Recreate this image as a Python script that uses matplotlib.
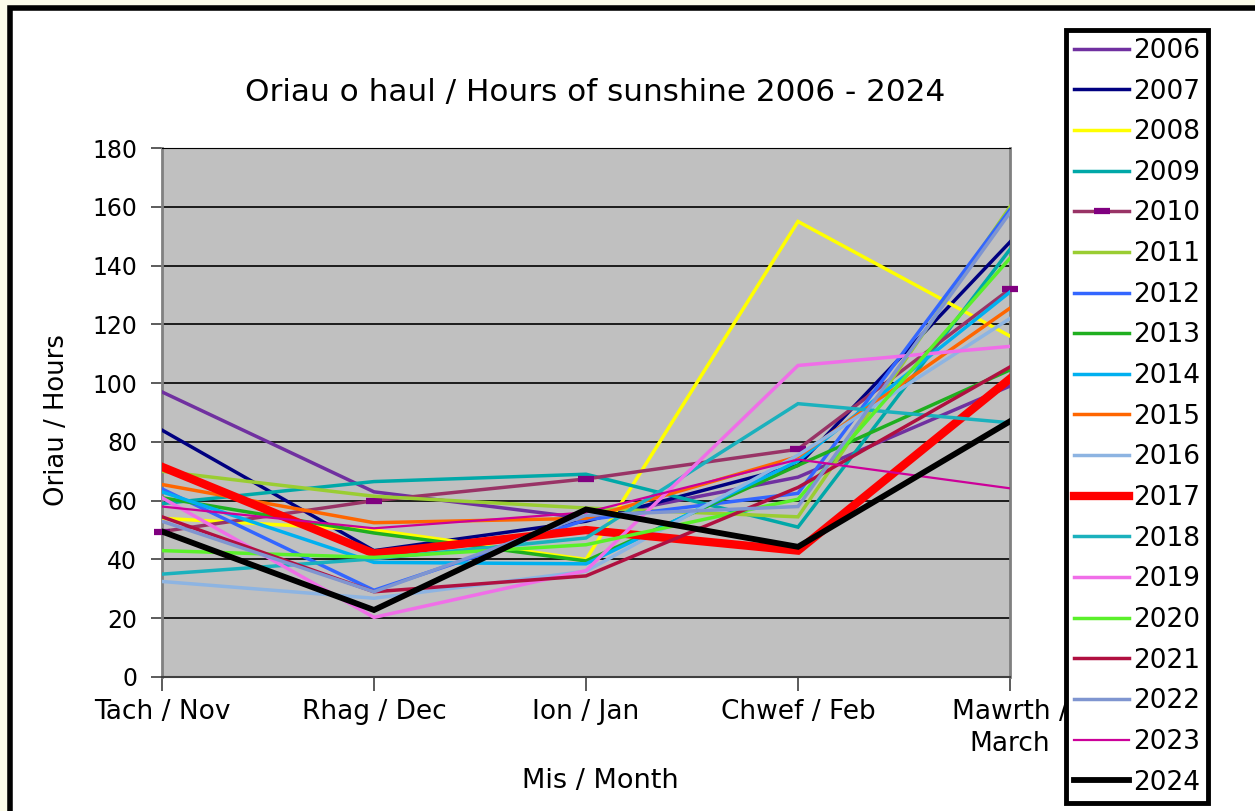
import matplotlib
matplotlib.use("Agg")
import matplotlib.pyplot as plt
from matplotlib.patches import Rectangle

months = ['Tach / Nov', 'Rhag / Dec', 'Ion / Jan', 'Chwef / Feb', 'Mawrth /\nMarch']
years = ['2006', '2007', '2008', '2009', '2010', '2011', '2012', '2013', '2014', '2015',
         '2016', '2017', '2018', '2019', '2020', '2021', '2022', '2023', '2024']

# sunshine hours, Nov..March, one row per season
y2006 = [97, 63, 54, 68, 99]
y2007 = [84, 43, 53, 72, 148]
y2008 = [54, 50, 40, 155, 116]
y2009 = [59, 66.5, 69, 51, 145.5]
y2010 = [49.5, 60, 67.4, 77.5, 132]
y2011 = [70, 61.5, 57.5, 54.5, 160]
y2012 = [64, 29.5, 53.5, 62.5, 159]
y2013 = [61, 49, 39.5, 72, 104.5]
y2014 = [63, 39, 38.5, 73.5, 131]
y2015 = [65.5, 52.5, 54, 75, 125.5]
y2016 = [32.5, 26.8, 36, 75.5, 122]
y2017 = [71.5, 42, 50, 43, 101.5]
y2018 = [35, 40.2, 47.3, 93, 86.5]
y2019 = [61, 20.3, 36.2, 106, 112.5]
y2020 = [43, 40.7, 45, 60.5, 142.5]
y2021 = [54.5, 29, 34.4, 64.5, 105.5]
y2022 = [53, 29, 55, 58, 158]
y2023 = [58, 50.6, 56, 74, 64.2]
y2024 = [49.5, 22.8, 57, 44.3, 87]

series = [y2006, y2007, y2008, y2009, y2010, y2011, y2012, y2013, y2014, y2015,
          y2016, y2017, y2018, y2019, y2020, y2021, y2022, y2023, y2024]
colors = ['#7030A0', '#000080', '#FFFF00', '#00A8A8', '#993366', '#9ACD32', '#3366FF',
          '#1FAF1F', '#00B0F0', '#FF6600', '#8DB4E2', '#FF0000', '#1BB1BD', '#F06EE8',
          '#5AF02A', '#B01040', '#7F95D0', '#CC0099', '#000000']
widths = [2.5, 2.5, 2.5, 2.5, 2.5, 2.5, 2.5, 2.5, 2.5, 2.5,
          2.5, 6.0, 2.5, 2.5, 2.5, 2.5, 2.5, 1.6, 4.2]

fig = plt.figure(figsize=(12.55, 8.11), dpi=100)
fig.patch.set_facecolor('#FBFBE9')
fig.patches.append(Rectangle((10 / 1255, -0.05), 1.1, 1 - 8 / 811 + 0.05,
                             transform=fig.transFigure, facecolor='white',
                             edgecolor='black', linewidth=4, zorder=-1))

ax = fig.add_axes([162 / 1255, 1 - 677 / 811, 848 / 1255, 529 / 811])
ax.set_facecolor('#C0C0C0')
x = list(range(len(months)))
for yr, vals, c, lw in zip(years, series, colors, widths):
    if yr == '2010':
        ax.plot(x, vals, color=c, lw=lw, marker='_', markersize=11,
                markeredgewidth=4.5, markeredgecolor='#800080', label=yr,
                clip_on=False, zorder=3)
    else:
        ax.plot(x, vals, color=c, lw=lw, label=yr, solid_joinstyle='miter', zorder=3)

ax.set_xlim(0, 4)
ax.set_ylim(0, 180)
ax.set_yticks(range(0, 181, 20))
ax.set_xticks(x)
ax.set_xticklabels(months, fontsize=19, multialignment='center', linespacing=1.3)
ax.tick_params(axis='y', labelsize=17, length=8, width=1.2, color='#404040', pad=10)
ax.tick_params(axis='x', length=10, width=1.2, color='#404040', pad=6)
ax.yaxis.grid(True, color='black', lw=1.2)
ax.set_axisbelow(True)
for s in ['left', 'right']:
    ax.spines[s].set_color('#808080')
    ax.spines[s].set_linewidth(2)
ax.spines['top'].set_color('black')
ax.spines['bottom'].set_color('#404040')
ax.spines['bottom'].set_linewidth(1.5)

fig.text(595 / 1255, 1 - 92 / 811, 'Oriau o haul / Hours of sunshine 2006 - 2024',
         fontsize=22.4, ha='center', va='center')
fig.text(57 / 1255, 1 - 420 / 811, 'Oriau / Hours', fontsize=18.6, rotation=90,
         ha='center', va='center')
fig.text(600 / 1255, 1 - 781 / 811, 'Mis / Month', fontsize=19.5, ha='center', va='center')

leg = fig.legend(loc='upper left', bbox_to_anchor=(1066 / 1255, 1 - 30 / 811),
                 fontsize=19, frameon=True, fancybox=False, framealpha=1,
                 edgecolor='black', handlelength=2.1, handletextpad=0.15,
                 labelspacing=0.555, borderpad=0.3, borderaxespad=0)
leg.get_frame().set_linewidth(3.5)

fig.savefig('out.png', dpi=100)
